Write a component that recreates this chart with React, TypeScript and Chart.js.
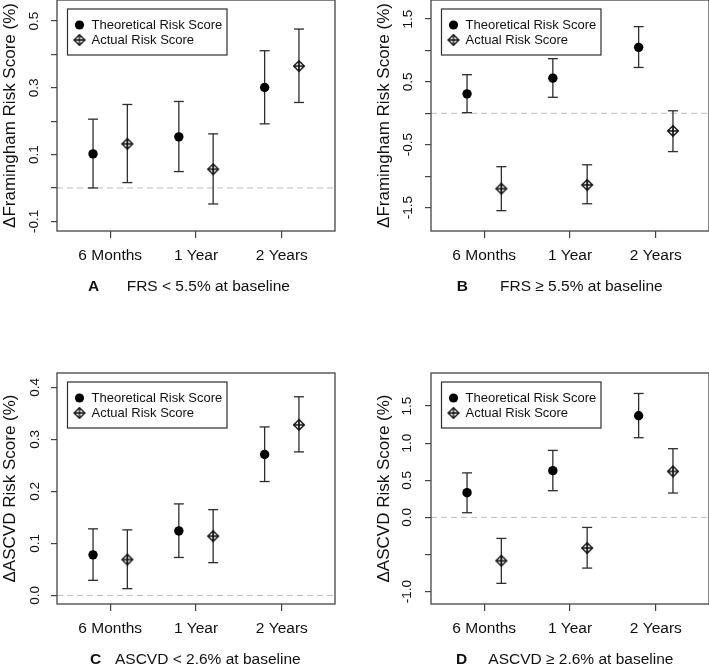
import React, { useEffect, useRef } from "react";
import { Chart, registerables } from "chart.js";

Chart.register(...registerables);

const FONT = "'Liberation Sans', Arial, Helvetica, sans-serif";
Chart.defaults.font.family = FONT;

// ---------- data ----------
const categories = ["6 Months", "1 Year", "2 Years"];
const seriesLabels = ["Theoretical Risk Score", "Actual Risk Score"];
const xRange = [0.38, 3.62];
const dodge = [-0.2, 0.2];

// Panel A: FRS < 5.5%
const aTheoMean = [0.102, 0.153, 0.301];
const aTheoLow = [0.0, 0.049, 0.192];
const aTheoHigh = [0.206, 0.259, 0.411];
const aActMean = [0.132, 0.056, 0.365];
const aActLow = [0.016, -0.048, 0.256];
const aActHigh = [0.25, 0.162, 0.476];
const aTicks = [-0.1, 0, 0.1, 0.2, 0.3, 0.4, 0.5];
const aTickLabels = ["-0.1", "", "0.1", "", "0.3", "", "0.5"];
const aRange = [-0.129, 0.563];

// Panel B: FRS >= 5.5%
const bTheoMean = [0.31, 0.56, 1.05];
const bTheoLow = [0.01, 0.255, 0.73];
const bTheoHigh = [0.615, 0.87, 1.38];
const bActMean = [-1.2, -1.14, -0.28];
const bActLow = [-1.55, -1.44, -0.61];
const bActHigh = [-0.85, -0.82, 0.04];
const bTicks = [-1.5, -1, -0.5, 0, 0.5, 1, 1.5];
const bTickLabels = ["-1.5", "", "-0.5", "", "0.5", "", "1.5"];
const bRange = [-1.874, 1.804];

// Panel C: ASCVD < 2.6%
const cTheoMean = [0.078, 0.124, 0.271];
const cTheoLow = [0.029, 0.073, 0.219];
const cTheoHigh = [0.128, 0.176, 0.324];
const cActMean = [0.069, 0.114, 0.328];
const cActLow = [0.013, 0.063, 0.276];
const cActHigh = [0.126, 0.165, 0.382];
const cTicks = [0, 0.1, 0.2, 0.3, 0.4];
const cTickLabels = ["0.0", "0.1", "0.2", "0.3", "0.4"];
const cRange = [-0.0165, 0.4277];

// Panel D: ASCVD >= 2.6%
const dTheoMean = [0.333, 0.63, 1.37];
const dTheoLow = [0.063, 0.36, 1.074];
const dTheoHigh = [0.6, 0.903, 1.67];
const dActMean = [-0.584, -0.413, 0.62];
const dActLow = [-0.889, -0.683, 0.329];
const dActHigh = [-0.283, -0.135, 0.926];
const dTicks = [-1, -0.5, 0, 0.5, 1, 1.5];
const dTickLabels = ["-1.0", "", "0.0", "0.5", "1.0", "1.5"];
const dRange = [-1.167, 1.946];

const frsTitle = "\u0394Framingham Risk Score (%)";
const ascvdTitle = "\u0394ASCVD Risk Score (%)";
const letters = ["A", "B", "C", "D"];
const captions = [
  "FRS < 5.5% at baseline",
  "FRS \u2265 5.5% at baseline",
  "ASCVD < 2.6% at baseline",
  "ASCVD \u2265 2.6% at baseline",
];

const panels = [
  { title: frsTitle, theo: [aTheoMean, aTheoLow, aTheoHigh], act: [aActMean, aActLow, aActHigh], ticks: aTicks, tickLabels: aTickLabels, range: aRange },
  { title: frsTitle, theo: [bTheoMean, bTheoLow, bTheoHigh], act: [bActMean, bActLow, bActHigh], ticks: bTicks, tickLabels: bTickLabels, range: bRange },
  { title: ascvdTitle, theo: [cTheoMean, cTheoLow, cTheoHigh], act: [cActMean, cActLow, cActHigh], ticks: cTicks, tickLabels: cTickLabels, range: cRange },
  { title: ascvdTitle, theo: [dTheoMean, dTheoLow, dTheoHigh], act: [dActMean, dActLow, dActHigh], ticks: dTicks, tickLabels: dTickLabels, range: dRange },
];

// ---------- layout (positions / sizes only) ----------
const CW = 354;
const CH = 340;
const layouts = [
  { left: 0, top: -43, tickPad: 5.3, letterX: 88, textX: 126.7 },
  { left: 374, top: -43, tickPad: 5.3, letterX: 82.7, textX: 126 },
  { left: 0, top: 330, tickPad: 6.5, letterX: 90, textX: 115 },
  { left: 374, top: 330, tickPad: 5.8, letterX: 82, textX: 114.3 },
];

const INK = "#111111";
const LINE = "#2e2e2e";

function makeDiamondPlus(): HTMLCanvasElement {
  const c = document.createElement("canvas");
  c.width = 14;
  c.height = 14;
  const ctx = c.getContext("2d")!;
  ctx.strokeStyle = "#111";
  ctx.lineWidth = 1.4;
  const cx = 7, cy = 7, r = 5.3;
  ctx.beginPath();
  ctx.moveTo(cx, cy - r);
  ctx.lineTo(cx + r, cy);
  ctx.lineTo(cx, cy + r);
  ctx.lineTo(cx - r, cy);
  ctx.closePath();
  ctx.stroke();
  ctx.beginPath();
  ctx.moveTo(cx - r, cy);
  ctx.lineTo(cx + r, cy);
  ctx.moveTo(cx, cy - r);
  ctx.lineTo(cx, cy + r);
  ctx.stroke();
  return c;
}

function buildConfig(idx: number, diamond: HTMLCanvasElement): any {
  const p = panels[idx];
  const lay = layouts[idx];
  const pts = (means: number[], off: number) => means.map((y, i) => ({ x: i + 1 + off, y }));
  const whisk = (low: number[], high: number[], off: number) =>
    low.flatMap((lo, i) => [
      { x: i + 1 + off, y: lo },
      { x: i + 1 + off, y: high[i] },
      { x: i + 1 + off, y: null },
    ]);

  const framePlugin = {
    id: "frame",
    afterDraw(chart: any) {
      const { ctx, chartArea: a } = chart;
      ctx.save();
      ctx.strokeStyle = "#444444";
      ctx.lineWidth = 1.3;
      ctx.strokeRect(a.left, a.top, a.right - a.left, a.bottom - a.top);
      // inset legend
      ctx.strokeStyle = LINE;
      ctx.lineWidth = 1.2;
      ctx.strokeRect(a.left + 10.5, a.top + 9, 159.5, 46);
      ctx.fillStyle = "#000";
      ctx.beginPath();
      ctx.arc(a.left + 22.5, a.top + 25, 4.6, 0, Math.PI * 2);
      ctx.fill();
      ctx.drawImage(diamond, a.left + 22.5 - 7, a.top + 40 - 7);
      ctx.font = `13px ${FONT}`;
      ctx.textBaseline = "middle";
      ctx.textAlign = "left";
      ctx.fillStyle = INK;
      ctx.fillText(seriesLabels[0], a.left + 34.5, a.top + 25);
      ctx.fillText(seriesLabels[1], a.left + 34.5, a.top + 40);
      // caption
      const cy = a.bottom + 56;
      ctx.font = `bold 15.5px ${FONT}`;
      ctx.fillText(letters[idx], lay.letterX, cy);
      ctx.font = `15.5px ${FONT}`;
      ctx.fillText(captions[idx], lay.textX, cy);
      ctx.restore();
    },
  };

  return {
    type: "scatter",
    data: {
      datasets: [
        {
          label: "zero",
          data: [
            { x: xRange[0], y: 0 },
            { x: xRange[1], y: 0 },
          ],
          showLine: true,
          borderColor: "#bdbdbd",
          borderWidth: 1,
          borderDash: [6, 4],
          pointRadius: 0,
          order: 5,
        },
        {
          label: seriesLabels[0] + " CI",
          data: whisk(p.theo[1], p.theo[2], dodge[0]),
          showLine: true,
          spanGaps: false,
          borderColor: LINE,
          borderWidth: 1.3,
          pointStyle: "line",
          pointRadius: 5,
          pointBorderColor: LINE,
          pointBorderWidth: 1.3,
          order: 4,
        },
        {
          label: seriesLabels[1] + " CI",
          data: whisk(p.act[1], p.act[2], dodge[1]),
          showLine: true,
          spanGaps: false,
          borderColor: LINE,
          borderWidth: 1.3,
          pointStyle: "line",
          pointRadius: 5,
          pointBorderColor: LINE,
          pointBorderWidth: 1.3,
          order: 3,
        },
        {
          label: seriesLabels[0],
          data: pts(p.theo[0], dodge[0]),
          pointStyle: "circle",
          pointRadius: 4.7,
          backgroundColor: "#000",
          borderWidth: 0,
          order: 1,
        },
        {
          label: seriesLabels[1],
          data: pts(p.act[0], dodge[1]),
          pointStyle: diamond,
          order: 0,
        },
      ],
    },
    options: {
      responsive: false,
      animation: false,
      events: [],
      devicePixelRatio: 1,
      layout: { padding: { left: 0, top: 43, right: CW - 335, bottom: 0 } },
      plugins: { legend: { display: false }, tooltip: { enabled: false }, title: { display: false } },
      scales: {
        x: {
          type: "linear",
          position: "bottom",
          min: xRange[0],
          max: xRange[1],
          afterBuildTicks: (s: any) => {
            s.ticks = categories.map((_, i) => ({ value: i + 1 }));
          },
          afterFit: (s: any) => {
            s.height = CH - 274;
          },
          border: { display: false },
          grid: { drawOnChartArea: false, drawTicks: true, tickLength: 7, color: "#444444", lineWidth: 1.2 },
          ticks: {
            autoSkip: false,
            maxRotation: 0,
            minRotation: 0,
            padding: 8.7,
            color: INK,
            font: { size: 15.5, family: FONT },
            callback: (_v: any, i: number) => categories[i],
          },
        },
        y: {
          type: "linear",
          position: "left",
          min: p.range[0],
          max: p.range[1],
          afterBuildTicks: (s: any) => {
            s.ticks = p.ticks.map((v) => ({ value: v }));
          },
          afterFit: (s: any) => {
            s.width = 57;
          },
          border: { display: false },
          grid: { drawOnChartArea: false, drawTicks: true, tickLength: 6, color: "#444444", lineWidth: 1.2 },
          ticks: {
            autoSkip: false,
            minRotation: 90,
            maxRotation: 90,
            crossAlign: "center",
            padding: lay.tickPad,
            color: INK,
            font: { size: 13.5, family: FONT },
            callback: (_v: any, i: number) => p.tickLabels[i],
          },
          title: {
            display: true,
            text: p.title,
            color: INK,
            font: { size: 17, family: FONT, lineHeight: 1.2 },
            padding: { top: 0, bottom: 0 },
          },
        },
      },
    },
    plugins: [framePlugin],
  };
}

function PanelChart({ idx }: { idx: number }) {
  const ref = useRef<HTMLCanvasElement>(null);
  useEffect(() => {
    const diamond = makeDiamondPlus();
    const chart = new Chart(ref.current!, buildConfig(idx, diamond));
    return () => chart.destroy();
  }, [idx]);
  const lay = layouts[idx];
  return (
    <canvas
      ref={ref}
      width={CW}
      height={CH}
      style={{ position: "absolute", left: lay.left, top: lay.top, width: CW, height: CH }}
    />
  );
}

export default function App() {
  return (
    <div
      style={{
        position: "fixed",
        left: 0,
        top: 0,
        width: 709,
        height: 664,
        overflow: "hidden",
        background: "#ffffff",
      }}
    >
      {panels.map((_, i) => (
        <PanelChart key={i} idx={i} />
      ))}
    </div>
  );
}
